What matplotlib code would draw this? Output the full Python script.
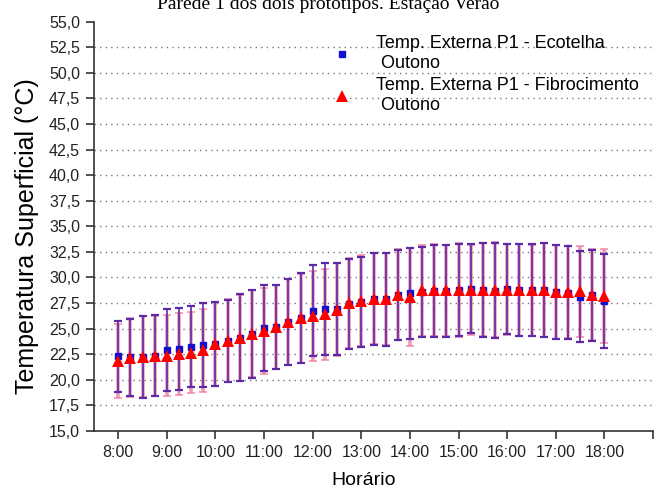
import numpy as np
import matplotlib
matplotlib.use("Agg")
import matplotlib.pyplot as plt
from matplotlib.lines import Line2D

plt.rcParams['font.family'] = ['Liberation Sans', 'DejaVu Sans']

# 15-minute readings, 8:00 to 18:00
hours = 8 + np.arange(41) / 4.0

eco_mean = [22.3, 22.2, 22.25, 22.35, 22.9, 23.0, 23.25, 23.4, 23.5, 23.8, 24.12, 24.51,
            25.1, 25.16, 25.68, 26.0, 26.75, 26.9, 26.94, 27.4, 27.6, 27.9, 27.85, 28.3,
            28.45, 28.6, 28.7, 28.7, 28.8, 28.9, 28.75, 28.7, 28.85, 28.8, 28.77, 28.78,
            28.57, 28.5, 28.1, 28.25, 27.7]
eco_std = [3.45, 3.78, 3.98, 3.95, 4.01, 4.04, 3.93, 4.08, 4.1, 4.01, 4.26, 4.3, 4.19,
           4.14, 4.19, 4.39, 4.43, 4.47, 4.5, 4.38, 4.42, 4.48, 4.54, 4.41, 4.46, 4.39,
           4.52, 4.47, 4.5, 4.35, 4.59, 4.65, 4.42, 4.5, 4.47, 4.62, 4.57, 4.55, 4.45,
           4.44, 4.59]

fib_mean = [21.85, 22.18, 22.24, 22.34, 22.34, 22.5, 22.66, 22.89, 23.47, 23.8, 24.12,
            24.51, 24.77, 25.16, 25.68, 26.0, 26.23, 26.4, 26.84, 27.5, 27.73, 27.93, 27.9,
            28.32, 28.09, 28.75, 28.75, 28.77, 28.78, 28.8, 28.82, 28.82, 28.82, 28.8,
            28.77, 28.8, 28.58, 28.58, 28.65, 28.32, 28.16]
fib_std = [3.6, 3.9, 3.95, 3.9, 3.95, 4.0, 3.95, 4.05, 4.1, 4.05, 4.2, 4.25, 4.2, 4.15,
           4.2, 4.35, 4.4, 4.45, 4.55, 4.4, 4.45, 4.45, 4.5, 4.45, 4.75, 4.45, 4.5, 4.45,
           4.55, 4.4, 4.55, 4.6, 4.45, 4.5, 4.45, 4.6, 4.55, 4.5, 4.45, 4.45, 4.6]

xticks = list(range(8, 20))
xlabels = ['%d:00' % h for h in range(8, 19)] + ['']
yticks = np.arange(15, 55.1, 2.5)

fig = plt.figure(figsize=(6.57, 4.95), dpi=100)
ax = fig.add_axes([0.143, 0.1293, 0.851, 0.827])

# error bars: red (wider, pinkish) under blue (thin, purple)
ax.errorbar(hours, fib_mean, yerr=fib_std, fmt='none', ecolor='#f07a9a', elinewidth=2.6,
            capsize=3.2, capthick=1.3, alpha=0.75, zorder=2)
ax.errorbar(hours, eco_mean, yerr=eco_std, fmt='none', ecolor='#5a2aa8', elinewidth=1.2,
            capsize=3.2, capthick=1.6, zorder=3)
ax.plot(hours, eco_mean, 's', color='#1010d0', markersize=4, zorder=4)
ax.plot(hours, fib_mean, '^', color='#ff0000', markersize=9, markeredgewidth=0, zorder=5)

ax.set_xlim(7.5, 19)
ax.set_ylim(15, 55)
ax.set_xticks(xticks)
ax.set_xticklabels(xlabels)
ax.set_yticks(yticks)
ax.set_yticklabels([('%.1f' % v).replace('.', ',') for v in yticks])
ax.tick_params(axis='both', direction='out', length=6, width=1.1, labelsize=11.5,
               colors='#222222', pad=4)

for v in yticks[1:-1]:
    ax.axhline(v, color='#777777', linestyle=(0, (1, 3)), linewidth=1.0, zorder=1)

for s in ['top', 'right']:
    ax.spines[s].set_visible(False)
for s in ['left', 'bottom']:
    ax.spines[s].set_linewidth(1.2)
    ax.spines[s].set_color('#333333')

ax.set_xlabel('Horário', fontsize=14)
ax.xaxis.set_label_coords(0.483, -0.1)
ax.set_ylabel('Temperatura Superficial (°C)', fontsize=18)
ax.yaxis.set_label_coords(-0.098, 0.476)

handles = [Line2D([], [], marker='s', color='#1010d0', linestyle='none', markersize=4),
           Line2D([], [], marker='^', color='#ff0000', linestyle='none', markersize=9,
                  markeredgewidth=0)]
labels = ['Temp. Externa P1 - Ecotelha\n Outono', 'Temp. Externa P1 - Fibrocimento\n Outono']
ax.legend(handles, labels, loc='upper left', bbox_to_anchor=(0.493, 0.943),
          bbox_transform=fig.transFigure, frameon=False, fontsize=13,
          handlelength=1.2, handletextpad=1.3, labelspacing=0.3, borderaxespad=0)

fig.text(0.5, 0.982, 'Parede 1 dos dois protótipos. Estação Verão', ha='center',
         va='baseline', fontsize=14, family='Liberation Serif')

fig.savefig('out.png', dpi=100)
plt.close(fig)
